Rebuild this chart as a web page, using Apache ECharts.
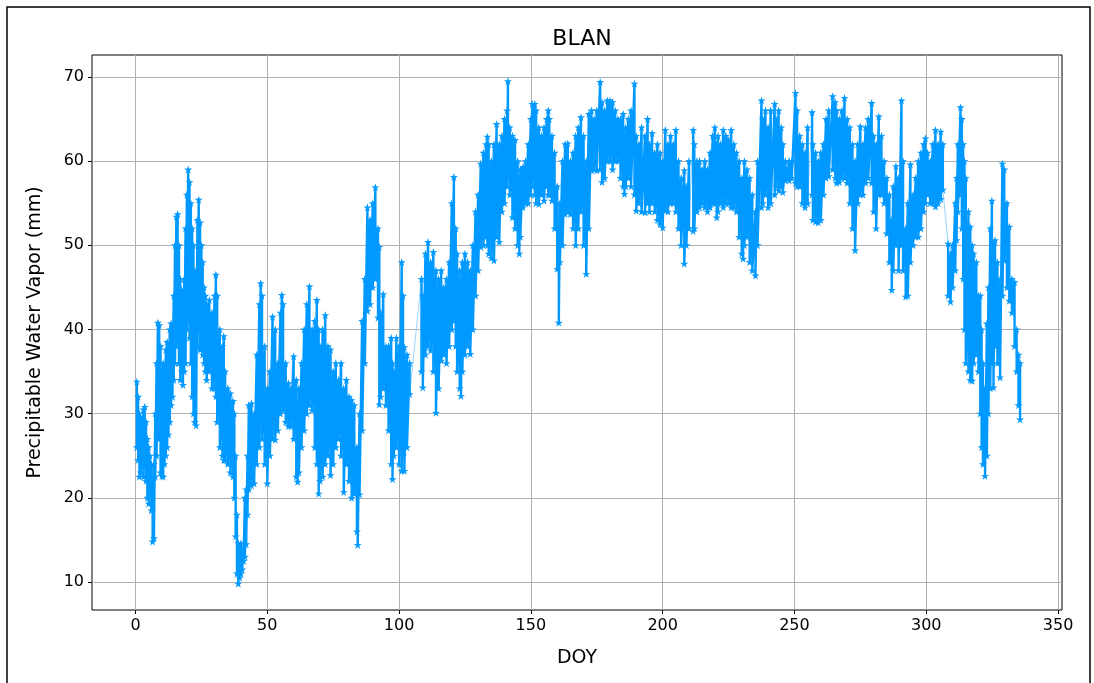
<!DOCTYPE html>
<html>
<head>
<meta charset="utf-8">
<script src="https://cdn.jsdelivr.net/npm/echarts@6/dist/echarts.min.js"></script>
<style>
html,body{margin:0;padding:0;background:#fff;}
#chart{width:1094px;height:683px;}
</style>
</head>
<body>
<div id="chart"></div>
<script>
// Day of year of each reading
const doy = [
0.5,1,1.5,2,2.5,3,3.5,4,4.5,5,
5.5,6,6.5,7,7.5,8,8.5,9,9.5,10,
10.5,11,11.5,12,12.5,13,13.5,14,14.5,15,
15.5,16,16.5,17,17.5,18,18.5,19,19.5,20,
20.5,21,21.5,22,22.5,23,23.5,24,24.5,25,
25.5,26,26.5,27,28,29,30,30.5,31,32,
33,33.5,34,35,36,37,37.5,38,38.5,39,
39.5,40,40.5,41,41.5,42,42.5,43,44,45,
46,47,47.5,48,49,50,51,52,53,54,
55,55.5,56,57,58,59,60,61,61.5,62,
63,64,65,66,67,68,68.8,69.5,70,71,
72,73,74,75,76,77,78,79,80,81,
82,83,84,84.3,85,86,87,88,89,90,
91,92,92.5,93,94,95,96,97,97.5,98,
99,100,101,101.5,102,103,104,108.5,109,110,
111,112,113,114,115,116,117,118,119,120,
120.8,121.5,122,123,123.5,124,125,126,127,128,
129,130,131,132,133,133.5,134,135,136,137,
138,139,140,141,141.3,142,143,144,145,145.6,
146,147,148,149,150,150.5,151.5,152,153,154,
155,156,156.6,157,158,159,160,160.6,161,162,
163,164,165,166,167,168,169,170,171,172,
173,174,175,176.3,177,178,179,180,181,182,
183,184,185,185.5,186,187,188,189.3,190,191,
192,193.3,194.3,195,196,197,198,199,200,201,
202,203,204,205,206,207,208.2,209,210,211.6,
212,213,214,215,216,217,218,219,219.8,220.5,
221,222,223,224,225,226,227,228,229,230,
230.5,231,232,233,234,235.2,236,237.5,238,239,
240,241,242.5,243,244,245,245.6,246.5,247,248,
249,250.4,251,252,253,254,255,256.7,257,258,
259,260,261,262,263,264.5,265.5,266,267,268,
269,270,271,272,273,274,275,276,277,278,
279.3,280,281,282,283,284,285,286,286.9,287.5,
288.5,289.5,290.6,291.2,292.2,293,294,295,296,297,
298,299,299.7,300.5,301.5,302.5,303.5,304.5,305.5,306.3,
308.3,309.2,310,311,311.5,312,313,313.5,314,314.5,
315,316,316.7,317.4,318,319,319.8,320.5,321,321.5,
322.3,323,323.6,324.3,324.9,325.5,326.1,327,328,328.9,
329.6,330.6,331.5,332.5,333.5,334.3,335,335.6
];
// Upper edge of the PWV band at each reading (mm)
const pwvHigh = [
33.8,32,30,29.5,28,30.5,30.8,29,27,26,
25,24,22,24,30,36,40.8,40.5,38,35,
36,34,37.6,38.5,36,40,40.7,38,44,50,
53.4,53.7,50,46,44.7,44,46,52,56,59,
57.5,55,52,50,47,45,53,55.4,52.7,50,
48,45,44,43,43.5,42,44,46.5,44,40,
38,39.2,35,33,32.4,31.5,30,25,18,14.6,
14,14.6,13.5,14,20,21,25,31,31.2,30,
37,43,45.5,44,38,33,35,41.5,40,36,
42,44.1,43,36,33.6,33,36.8,34,30,33,
36,40,43,45.1,40,41,43.5,40,38,40,
41.7,38,37.6,35,36,34,36,33,34,32,
31.6,31,26,22,30,41,46,54.5,53,55,
56.9,52,49.8,42,44.2,38,38,39,36,35,
39,38,48,44,37.9,37,36,46,44,49,
50.4,48,49.2,47,46,47,45,46,48,55,
58.1,52,49,47,45,48,49,48,47,50,
54,56,59.7,61,62,62.9,62,60,62,64.4,
62,63,65,66,69.5,64,63,62.5,60,58,
59,59.3,60,62,65,66.8,66.8,66,64,63,
64,65,66,65,63,61,57,52,55,60,
62,62.1,60,61,63,64,65.2,63,60,65.6,
66,65,66,69.4,67,66,67.2,67.2,67,66,
65,65,65.6,63,64,65,66,69.2,63,62,
64,63,65,62,63.3,61,62,61,60,63.7,
62,63,62,63.7,60,58,58.9,57,60,63.7,
62,60,60,59,60,59,61,63,64,62,
63,62,63.7,63,62.5,63.7,62,61,60,58,
56,60,59,58,56,54,60,67.2,65,66,
64,66,66.8,65,66,64,62,60,59,60,
60,68.1,66,63,62,61,64,65.8,62,61,
60,61,62,65,66,67.7,67,66,65,66,
67.5,65,64,62,60,62,64.1,62,64,65,
66.9,63,62,65.3,63,60,58,56,53,57,
59.4,58,67.2,60,52,55,59.6,56,58,60,
61,62,62.7,61,60,62,63.7,62,63.5,62,
50.2,49,50,55,58,62,66.4,65,62,60,
58,54,52.2,50,49,48,44,44,40,36,
33,40.7,45,52,55.3,50,50.6,48,46,59.7,
59,55,52.2,46,45.6,40,37,36
];
// Lower edge of the PWV band at each reading (mm)
const pwvLow = [
26,24.5,22.5,23,24,22.5,24,22,20,19.3,
20.5,18.5,14.8,15.2,22.5,25,28,27,23,22.6,
22.5,24,25,26,27.5,29,31,32,34,36,
38,38.5,36,34,35,33.4,35,36,40,41,
39,36,32,30,29,28.6,38,40,37.6,38,
37,36,35,34,35,33,33,32,29,26,
25,24.5,24.5,24,23,22.5,20,15.4,11,9.8,
10.5,11,11.5,12.5,13,14.5,18,21,21.5,21.7,
24,26,29,27,24,21.7,25,27,26.9,28,
30,31,30.4,29,28.5,28.5,27,22.5,21.9,23,
26,28,30,31,30.4,26,24,20.5,22,22.5,
24,25,22.7,24,26,27,25,20.7,24,22,
20,20.5,16,14.4,20.4,28,36,42.2,43,45,
46,41.4,31.1,32,33,31,28,24,22.2,25,
26,24,23.2,25,23.2,26,32.3,35,33.1,37,
38,37.5,35,30.1,33,36.3,37,36,38,40,
41,38,35,33,32.1,35,37,38,37.1,40,
44,47,49.8,50,51,50,49,48.5,48.2,51,
50.4,54,55,57,58,56,53.3,52,50,49,
51,54.5,55,55,56,57,56,55,54.9,56,
55.3,57,56,56,55.3,52,47.2,40.8,48,50,
53.7,54,53.7,52,50,52,54,50,46.6,52,
58.9,59,58.9,59,57.5,58,60,60,59,60,
60,58,57,56.1,57,58,57,56,54.1,55,
54,53.9,55,54,55,54,53,52.5,52.1,54.1,
54,55,55,54,52,50,47.8,50,52,51.7,
52,54,54.5,55,54.5,54,54.5,55,55,53.3,
54,55,54.5,55,55,54.5,54.5,54,51,49,
48.4,50,51,48,47,46.4,50,54.5,55,56,
54.5,55,56,57,56.5,57,56.3,57.7,58,57.7,
58,57.4,57,57,55,54.5,55,56,53,52.8,
52.7,53,56,58,58.2,59,58,57.4,57.5,58,
58,57.4,55,52,49.4,55,56,56,57.4,58,
57.4,54,52,56,56,55,51.4,48,44.7,47,
50,47,50,47,43.9,44,48,50,51,51,
52,54,55,56,55,55,54.6,55,55.5,56.6,
44,43.3,45,47,50.6,54,56,52,46,40,
36,35,34,33.9,36,37,35,30,26,24,
22.6,25,30,33,36,33.1,38,36,34.3,44,
48.2,45,43.4,42,38,35,31,29.3
];
const xTicks = [0, 50, 100, 150, 200, 250, 300, 350];
const yTicks = [10, 20, 30, 40, 50, 60, 70];
const titleText = 'BLAN';
const xName = 'DOY';
const yName = 'Precipitable Water Vapor (mm)';
const gapDays = 1.5; // readings further apart than this are a data gap

const points = [];
const gapLinks = [];
for (let i = 0; i < doy.length; i++) {
  if (i > 0 && doy[i] - doy[i - 1] > gapDays) {
    points.push('-');
    gapLinks.push([doy[i - 1], pwvLow[i - 1]], [doy[i], pwvHigh[i]], '-');
  }
  points.push([doy[i], pwvHigh[i]]);
  points.push([doy[i], pwvLow[i]]);
}

const starPath = 'path://M5 0 L6.117 3.463 L9.755 3.455 L6.807 5.587 L7.939 9.045 L5 6.9 L2.061 9.045 L3.193 5.587 L0.245 3.455 L3.883 3.463 Z';
const FONT = 'DejaVu Sans';

const chart = echarts.init(document.getElementById('chart'), null, {renderer: 'canvas'});
chart.setOption({
  animation: false,
  backgroundColor: '#ffffff',
  textStyle: {fontFamily: FONT},
  title: {
    text: titleText,
    left: 577, top: 23,
    textAlign: 'center',
    textStyle: {fontFamily: FONT, fontSize: 22, fontWeight: 'normal', color: '#000'}
  },
  grid: {
    left: 92, top: 55, right: 32, bottom: 73,
    show: true, borderColor: '#000', borderWidth: 1, backgroundColor: 'transparent'
  },
  xAxis: {
    type: 'value', min: -16.5, max: 351.5,
    name: xName, nameLocation: 'middle', nameGap: 39,
    nameTextStyle: {fontFamily: FONT, fontSize: 19, color: '#000'},
    axisLine: {show: false, onZero: false},
    axisTick: {show: true, length: 4, lineStyle: {color: '#000'}, customValues: xTicks},
    axisLabel: {fontFamily: FONT, fontSize: 16, color: '#000', margin: 8, customValues: xTicks},
    splitLine: {show: true, lineStyle: {color: '#b0b0b0', width: 1}}
  },
  yAxis: {
    type: 'value', min: 6.67, max: 72.6,
    name: yName, nameLocation: 'middle', nameGap: 47, nameRotate: 90,
    nameTextStyle: {fontFamily: FONT, fontSize: 19, color: '#000'},
    axisLine: {show: false, onZero: false},
    axisTick: {show: true, length: 4, lineStyle: {color: '#000'}, customValues: yTicks},
    axisLabel: {fontFamily: FONT, fontSize: 16, color: '#000', margin: 8, customValues: yTicks},
    splitLine: {show: true, lineStyle: {color: '#b0b0b0', width: 1}}
  },
  series: [{
    type: 'line',
    data: gapLinks,
    showSymbol: false,
    connectNulls: false,
    lineStyle: {color: '#8ccfff', width: 0.9},
    silent: true,
    z: 2
  }, {
    type: 'line',
    data: points,
    connectNulls: false,
    showSymbol: true,
    showAllSymbol: true,
    symbol: starPath,
    symbolSize: 8,
    itemStyle: {color: '#0099ff'},
    lineStyle: {color: '#0099ff', width: 2.4},
    clip: true,
    z: 3
  }],
  graphic: [{
    type: 'rect',
    shape: {x: 7, y: 7, width: 1083, height: 700},
    style: {fill: 'none', stroke: '#000', lineWidth: 1.5},
    silent: true
  }]
});
</script>
</body>
</html>
